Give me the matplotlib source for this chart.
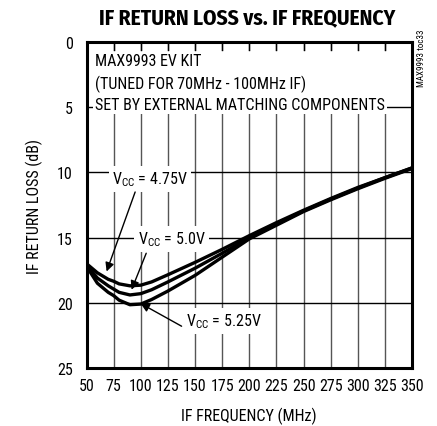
import matplotlib
matplotlib.use("Agg")
import matplotlib.pyplot as plt

plt.rcParams['font.family'] = ['Roboto Condensed', 'DejaVu Sans']
plt.rcParams['mathtext.fontset'] = 'custom'
plt.rcParams['mathtext.rm'] = 'Roboto Condensed'

# data
freq = [50, 60, 70, 75, 80, 90, 100, 110, 125, 150, 175, 200, 225, 250, 275, 300, 325, 350]
rl_475 = [17.0, 17.7, 18.2, 18.35, 18.55, 18.7, 18.65, 18.4, 17.85, 16.9, 15.9, 14.85,
          13.85, 12.9, 12.0, 11.15, 10.4, 9.65]
rl_500 = [17.1, 18.1, 18.7, 18.95, 19.2, 19.4, 19.3, 19.0, 18.4, 17.35, 16.2, 15.0,
          13.95, 12.95, 12.05, 11.2, 10.4, 9.65]
rl_525 = [17.2, 18.5, 19.2, 19.45, 19.8, 20.15, 20.1, 19.75, 19.1, 17.9, 16.5, 15.1,
          14.05, 13.0, 12.1, 11.25, 10.45, 9.7]
x_ticks = list(range(50, 351, 25))
y_ticks = [0, 5, 10, 15, 20, 25]

fig = plt.figure(figsize=(4.37, 4.27), dpi=100)
ax = fig.add_axes([0.198, 0.136, 0.745, 0.763])

for x in x_ticks[1:-1]:
    ax.axvline(x, color='#555555', lw=1.0, zorder=1)
for y in y_ticks[1:-1]:
    ax.axhline(y, color='black', lw=1.0, zorder=1)

for rl in (rl_475, rl_500, rl_525):
    ax.plot(freq, rl, color='black', lw=2.4, zorder=3, solid_capstyle='round')

ax.set_xlim(50, 350)
ax.set_ylim(25, 0)
ax.set_xticks(x_ticks)
ax.set_yticks(y_ticks)
ax.tick_params(axis='both', length=0, labelsize=11.5)
ax.tick_params(axis='x', pad=7)
ax.tick_params(axis='y', pad=10)
for s in ax.spines.values():
    s.set_linewidth(2.2)

ax.set_xlabel("IF FREQUENCY (MHz)", fontsize=11.5, labelpad=10)
ax.set_ylabel("IF RETURN LOSS (dB)", fontsize=11.5, labelpad=10)
fig.text(0.566, 0.957, "IF RETURN LOSS vs. IF FREQUENCY", ha='center', va='center',
         fontsize=15.5, fontweight='bold', family='Fira Sans Condensed')

ax.text(58, 0.85, "MAX9993 EV KIT\n(TUNED FOR 70MHz - 100MHz IF)\nSET BY EXTERNAL MATCHING COMPONENTS",
        ha='left', va='top', fontsize=11.5, linespacing=1.45, zorder=4,
        bbox=dict(facecolor='white', edgecolor='none', pad=1.5))
# top inner ticks drawn over the text box
for x in x_ticks[1:-1]:
    ax.plot([x, x], [0, 0.6], color='black', lw=1.0, zorder=5)

fig.text(0.964, 0.93, "MAX9993 toc33", rotation=90, ha='center', va='top', fontsize=6.5)

box = dict(facecolor='white', edgecolor='none', pad=2.5)
arrow = dict(arrowstyle='-|>', color='black', lw=1.0, mutation_scale=13, shrinkA=0, shrinkB=0)
sub = r'V$_{\mathregular{CC}}$'
ax.text(108.5, 10.5, sub + " = 4.75V", ha='center', va='center', fontsize=11.5, bbox=box, zorder=4)
ax.text(128.7, 15.1, sub + " = 5.0V", ha='center', va='center', fontsize=11.5, bbox=box, zorder=4)
ax.text(176.8, 21.4, sub + " = 5.25V", ha='center', va='center', fontsize=11.5, bbox=box, zorder=4)
ax.annotate("", xy=(68.5, 17.6), xytext=(94.8, 11.5), arrowprops=arrow, zorder=4)
ax.annotate("", xy=(91.5, 19.0), xytext=(105, 16.2), arrowprops=arrow, zorder=4)
ax.annotate("", xy=(99.8, 20.05), xytext=(137.6, 21.8), arrowprops=arrow, zorder=4)

fig.savefig("out.png", dpi=100)
